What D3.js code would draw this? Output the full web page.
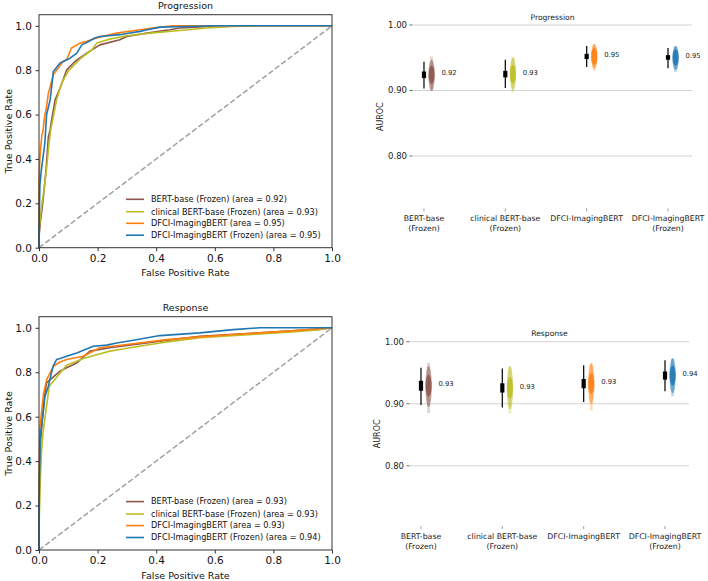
<!DOCTYPE html>
<html><head><meta charset="utf-8">
<script src="https://cdn.jsdelivr.net/npm/d3@7"></script>
<style>body{margin:0;background:#fff}svg{display:block;font-family:"DejaVu Sans",sans-serif}</style>
</head><body><svg id="c" width="708" height="581"></svg>
<script>
// ---------------- data ----------------
const colors = ["#8c564b", "#bcbd22", "#ff7f0e", "#1f77b4"];
const xTicks = [0, 0.2, 0.4, 0.6, 0.8, 1.0];
const yTicks = [0, 0.2, 0.4, 0.6, 0.8, 1.0];
const aurocTicks = [0.80, 0.90, 1.00];

const progLegend = [
  "BERT-base (Frozen) (area = 0.92)",
  "clinical BERT-base (Frozen) (area = 0.93)",
  "DFCI-ImagingBERT (area = 0.95)",
  "DFCI-ImagingBERT (Frozen) (area = 0.95)"];
const respLegend = [
  "BERT-base (Frozen) (area = 0.93)",
  "clinical BERT-base (Frozen) (area = 0.93)",
  "DFCI-ImagingBERT (area = 0.93)",
  "DFCI-ImagingBERT (Frozen) (area = 0.94)"];

// ROC points [fpr, tpr] — Progression
const progBert = [[0,0],[0,0.05],[0.005,0.12],[0.01,0.17],[0.015,0.23],[0.024,0.35],[0.032,0.50],[0.038,0.531],[0.043,0.576],[0.055,0.666],[0.072,0.719],[0.094,0.80],[0.123,0.839],[0.163,0.877],[0.208,0.914],[0.276,0.937],[0.299,0.952],[0.368,0.967],[0.447,0.982],[0.481,0.99],[0.55,0.995],[0.606,1.0],[1,1]];
const progClin = [[0,0],[0,0.08],[0.005,0.14],[0.01,0.20],[0.017,0.26],[0.026,0.36],[0.035,0.48],[0.04,0.531],[0.06,0.666],[0.077,0.742],[0.102,0.80],[0.143,0.854],[0.181,0.892],[0.197,0.922],[0.242,0.94],[0.299,0.955],[0.379,0.967],[0.48,0.979],[0.572,0.99],[0.663,0.997],[0.73,1.0],[1,1]];
const progImg = [[0,0],[0,0.30],[0.003,0.40],[0.005,0.44],[0.01,0.51],[0.013,0.52],[0.02,0.60],[0.026,0.636],[0.032,0.696],[0.037,0.72],[0.049,0.78],[0.06,0.80],[0.083,0.84],[0.094,0.847],[0.111,0.90],[0.14,0.922],[0.163,0.93],[0.208,0.949],[0.265,0.967],[0.345,0.982],[0.413,0.994],[0.457,1.0],[1,1]];
const progImgF = [[0,0],[0,0.07],[0.003,0.28],[0.008,0.35],[0.013,0.40],[0.02,0.47],[0.026,0.60],[0.038,0.666],[0.044,0.734],[0.049,0.794],[0.072,0.832],[0.106,0.854],[0.129,0.877],[0.146,0.914],[0.163,0.925],[0.19,0.945],[0.208,0.952],[0.276,0.96],[0.30,0.965],[0.345,0.975],[0.37,0.982],[0.413,0.994],[0.5,0.997],[0.595,1.0],[1,1]];

// ROC points — Response
const respBert = [[0,0],[0,0.15],[0.003,0.35],[0.006,0.5],[0.012,0.6],[0.02,0.70],[0.026,0.752],[0.05,0.78],[0.072,0.805],[0.094,0.82],[0.129,0.842],[0.174,0.895],[0.242,0.91],[0.413,0.94],[0.549,0.962],[0.754,0.977],[0.85,0.985],[0.95,0.993],[1,1]];
const respClin = [[0,0],[0,0.1],[0.004,0.3],[0.008,0.43],[0.014,0.53],[0.026,0.65],[0.035,0.737],[0.094,0.832],[0.151,0.862],[0.2,0.88],[0.242,0.895],[0.3,0.908],[0.413,0.932],[0.549,0.955],[0.754,0.972],[0.85,0.98],[0.95,0.99],[1,1]];
const respImg = [[0,0],[0,0.3],[0.003,0.55],[0.007,0.60],[0.015,0.70],[0.026,0.767],[0.049,0.827],[0.07,0.845],[0.094,0.857],[0.151,0.872],[0.208,0.91],[0.3,0.925],[0.436,0.947],[0.549,0.959],[0.663,0.97],[0.754,0.977],[0.85,0.985],[0.95,0.995],[1,1]];
const respImgF = [[0,0],[0,0.2],[0.002,0.35],[0.004,0.51],[0.013,0.60],[0.02,0.69],[0.032,0.737],[0.043,0.80],[0.049,0.83],[0.06,0.857],[0.072,0.862],[0.094,0.872],[0.129,0.887],[0.185,0.917],[0.231,0.922],[0.265,0.932],[0.322,0.944],[0.413,0.965],[0.549,0.977],[0.663,0.992],[0.754,1.0],[1,1]];

// AUROC bootstrap summaries
const catLine1 = ["BERT-base", "clinical BERT-base", "DFCI-ImagingBERT", "DFCI-ImagingBERT"];
const catLine2 = ["(Frozen)", "(Frozen)", "", "(Frozen)"];

const progMean = [0.924, 0.925, 0.952, 0.950];
const progCiLo = [0.903, 0.904, 0.936, 0.934];
const progCiHi = [0.944, 0.947, 0.968, 0.965];
const progQ1   = [0.919, 0.920, 0.948, 0.947];
const progQ3   = [0.929, 0.930, 0.956, 0.954];
const progMin  = [0.899, 0.897, 0.930, 0.928];
const progMax  = [0.952, 0.952, 0.971, 0.968];
const progText = ["0.92", "0.93", "0.95", "0.95"];

const respMean = [0.929, 0.925, 0.932, 0.945];
const respCiLo = [0.898, 0.894, 0.903, 0.920];
const respCiHi = [0.958, 0.957, 0.962, 0.970];
const respQ1   = [0.921, 0.918, 0.925, 0.939];
const respQ3   = [0.937, 0.933, 0.940, 0.952];
const respMin  = [0.885, 0.884, 0.889, 0.912];
const respMax  = [0.966, 0.961, 0.965, 0.973];
const respText = ["0.93", "0.93", "0.93", "0.94"];

// ---------------- drawing ----------------
const svg = d3.select("#c");

function rocPanel(top, bottom, title, curves, labels) {
  const x = d3.scaleLinear().domain([0, 1]).range([39, 332]);
  const y = d3.scaleLinear().domain([0, 1.05]).range([bottom, top]);
  const g = svg.append("g");
  g.append("line").attr("x1", x(0)).attr("y1", y(0)).attr("x2", x(1)).attr("y2", y(1))
    .attr("stroke", "#a0a0a0").attr("stroke-width", 1.5).attr("stroke-dasharray", "5.5,2.5");
  const line = d3.line().x(d => x(d[0])).y(d => y(d[1]));
  curves.forEach((c, i) => g.append("path").datum(c).attr("d", line)
    .attr("fill", "none").attr("stroke", colors[i]).attr("stroke-width", 1.6).attr("stroke-linejoin", "round"));
  g.append("rect").attr("x", x(0)).attr("y", top).attr("width", x(1) - x(0)).attr("height", bottom - top)
    .attr("fill", "none").attr("stroke", "#333").attr("stroke-width", 1);
  const xa = g.append("g").attr("transform", `translate(0,${bottom})`)
    .call(d3.axisBottom(x).tickValues(xTicks).tickFormat(d3.format(".1f")).tickSize(3.5).tickPadding(3.5));
  const ya = g.append("g").attr("transform", `translate(${x(0)},0)`)
    .call(d3.axisLeft(y).tickValues(yTicks).tickFormat(d3.format(".1f")).tickSize(3.5).tickPadding(3.5));
  [xa, ya].forEach(a => {
    a.select(".domain").remove();
    a.selectAll("line").attr("stroke", "#333");
    a.selectAll("text").attr("font-size", 10.5).attr("fill", "#111").attr("font-family", "DejaVu Sans");
  });
  g.append("text").attr("x", (x(0) + x(1)) / 2).attr("y", top - 5.5).attr("text-anchor", "middle")
    .attr("font-size", 9.5).attr("fill", "#111").text(title);
  g.append("text").attr("x", (x(0) + x(1)) / 2).attr("y", bottom + 28.5).attr("text-anchor", "middle")
    .attr("font-size", 9.5).attr("fill", "#111").text("False Positive Rate");
  g.append("text").attr("transform", `translate(11.5,${(top + bottom) / 2}) rotate(-90)`)
    .attr("text-anchor", "middle").attr("font-size", 9.5).attr("fill", "#111").text("True Positive Rate");
  const offs = [48.4, 36, 24.4, 12.5];
  labels.forEach((t, i) => {
    const yy = bottom - offs[i];
    g.append("line").attr("x1", 126).attr("x2", 144).attr("y1", yy).attr("y2", yy)
      .attr("stroke", colors[i]).attr("stroke-width", 1.6);
    g.append("text").attr("x", 151).attr("y", yy).attr("dy", "0.35em").attr("font-size", 8.2)
      .attr("fill", "#111").text(t);
  });
}

function aurocPanel(left, right, top, bottom, ymin, title, s) {
  const x = d3.scaleLinear().domain([-0.135, 3.295]).range([left, right]);
  const y = d3.scaleLinear().domain([ymin, 1.0]).range([bottom, top]);
  const g = svg.append("g");
  aurocTicks.forEach(t => {
    g.append("line").attr("x1", left).attr("x2", right).attr("y1", y(t)).attr("y2", y(t))
      .attr("stroke", "#d4d4d4").attr("stroke-width", 1);
    g.append("line").attr("x1", left - 3.5).attr("x2", left - 0.5).attr("y1", y(t)).attr("y2", y(t))
      .attr("stroke", "#444").attr("stroke-width", 0.8);
    g.append("text").attr("x", left - 6).attr("y", y(t)).attr("dy", "0.35em").attr("text-anchor", "end")
      .attr("font-size", 8.5).attr("fill", "#222").text(d3.format(".2f")(t));
  });
  g.append("text").attr("x", (left + right) / 2).attr("y", top - 5.5).attr("text-anchor", "middle")
    .attr("font-size", 7.6).attr("fill", "#222").text(title);
  g.append("text").attr("transform", `translate(${left - 33},${(top + bottom) / 2}) rotate(-90)`)
    .attr("text-anchor", "middle").attr("dy", "0.35em").attr("font-size", 8).attr("fill", "#222").text("AUROC");
  catLine1.forEach((c, i) => {
    const cx = x(i);
    g.append("line").attr("x1", cx).attr("x2", cx).attr("y1", bottom).attr("y2", bottom + 3)
      .attr("stroke", "#888").attr("stroke-width", 0.8);
    g.append("text").attr("x", cx).attr("y", bottom + 13).attr("text-anchor", "middle")
      .attr("font-size", 7.8).attr("fill", "#222").text(c);
    g.append("text").attr("x", cx).attr("y", bottom + 23).attr("text-anchor", "middle")
      .attr("font-size", 7.8).attr("fill", "#222").text(catLine2[i]);
    // bootstrap cloud
    const px = cx + 7.6;
    g.append("line").attr("x1", px).attr("x2", px).attr("y1", y(s.min[i])).attr("y2", y(s.max[i]))
      .attr("stroke", colors[i]).attr("stroke-opacity", 0.25).attr("stroke-width", 3);
    g.append("ellipse").attr("cx", px).attr("cy", (y(s.lo[i]) + y(s.hi[i])) / 2)
      .attr("rx", 3.2).attr("ry", (y(s.lo[i]) - y(s.hi[i])) / 2 + 2)
      .attr("fill", colors[i]).attr("fill-opacity", 0.55);
    g.append("ellipse").attr("cx", px).attr("cy", (y(s.q1[i]) + y(s.q3[i])) / 2)
      .attr("rx", 3.0).attr("ry", (y(s.q1[i]) - y(s.q3[i])) / 2 + 6)
      .attr("fill", colors[i]).attr("fill-opacity", 0.85);
    // CI whisker and IQR box
    g.append("line").attr("x1", cx).attr("x2", cx).attr("y1", y(s.lo[i])).attr("y2", y(s.hi[i]))
      .attr("stroke", "#111").attr("stroke-width", 1.3);
    g.append("rect").attr("x", cx - 2.1).attr("y", y(s.q3[i])).attr("width", 4.2)
      .attr("height", y(s.q1[i]) - y(s.q3[i])).attr("fill", "#000");
    g.append("text").attr("x", cx + 17.5).attr("y", y(s.mean[i]) - 2).attr("dy", "0.35em")
      .attr("font-size", 6.8).attr("fill", "#222").text(s.text[i]);
  });
}

rocPanel(14.7, 247.7, "Progression", [progBert, progClin, progImg, progImgF], progLegend);
rocPanel(316.7, 550, "Response", [respBert, respClin, respImg, respImgF], respLegend);

aurocPanel(413, 692, 25, 208.4, 0.72, "Progression",
  {mean: progMean, lo: progCiLo, hi: progCiHi, q1: progQ1, q3: progQ3, min: progMin, max: progMax, text: progText});
aurocPanel(410, 689, 341.7, 526, 0.703, "Response",
  {mean: respMean, lo: respCiLo, hi: respCiHi, q1: respQ1, q3: respQ3, min: respMin, max: respMax, text: respText});
</script>
</body></html>
